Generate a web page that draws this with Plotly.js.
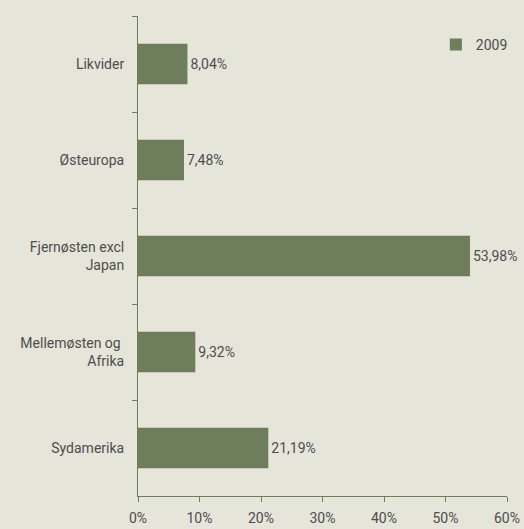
<!DOCTYPE html>
<html><head><meta charset="utf-8">
<script src="https://cdn.plot.ly/plotly-3.0.1.min.js"></script>
<style>html,body{margin:0;padding:0;background:#E6E5DA;}</style>
</head><body>
<div id="chart" style="width:524px;height:529px;"></div>
<script>
const categories = ["Likvider", "Østeuropa", "Fjernøsten excl<br>Japan", "Mellemøsten og <br>Afrika", "Sydamerika"];
const values2009 = [8.04, 7.48, 53.98, 9.32, 21.19];
const seriesName = "2009";
const xTickVals = [0, 10, 20, 30, 40, 50, 60];
const xTickText = ["0%", "10%", "20%", "30%", "40%", "50%", "60%"];

const green = "#6E7D5B";
const textColor = "#4d4d4d";
const fontFam = "Roboto, 'DejaVu Sans', sans-serif";

const trace = {
  type: "bar",
  orientation: "h",
  name: seriesName,
  x: values2009,
  y: categories,
  width: 0.42,
  marker: {color: green},
  text: values2009.map(v => v.toFixed(2).replace(".", ",") + "%"),
  textposition: "outside",
  constraintext: "none",
  cliponaxis: false,
  textfont: {family: fontFam, size: 14, color: textColor},
  hoverinfo: "none"
};

const layout = {
  width: 524, height: 529,
  paper_bgcolor: "#E6E5DA",
  plot_bgcolor: "#E6E5DA",
  margin: {l: 138, r: 16, t: 16, b: 33},
  font: {family: fontFam, size: 14, color: textColor},
  showlegend: true,
  legend: {x: 0.805, y: 0.94, xanchor: "left", yanchor: "middle", bgcolor: "rgba(0,0,0,0)",
           font: {family: fontFam, size: 14, color: textColor}, itemwidth: 30},
  xaxis: {
    range: [0, 60], tickvals: xTickVals, ticktext: xTickText,
    showgrid: false, zeroline: false, showline: true, linecolor: green, linewidth: 1,
    ticks: "outside", ticklen: 5, tickcolor: green, fixedrange: true,
    ticklabelstandoff: 4,
    tickfont: {family: fontFam, size: 14, color: textColor}
  },
  yaxis: {
    categoryorder: "array", categoryarray: categories, autorange: "reversed",
    showgrid: false, zeroline: false, showline: true, linecolor: green, linewidth: 1,
    ticks: "outside", ticklen: 5, tickcolor: green, tickson: "boundaries",
    ticklabelstandoff: 10,
    tickfont: {family: fontFam, size: 14, color: textColor}
  }
};

Plotly.newPlot("chart", [trace], layout, {displayModeBar: false, staticPlot: true});
</script>
</body></html>
